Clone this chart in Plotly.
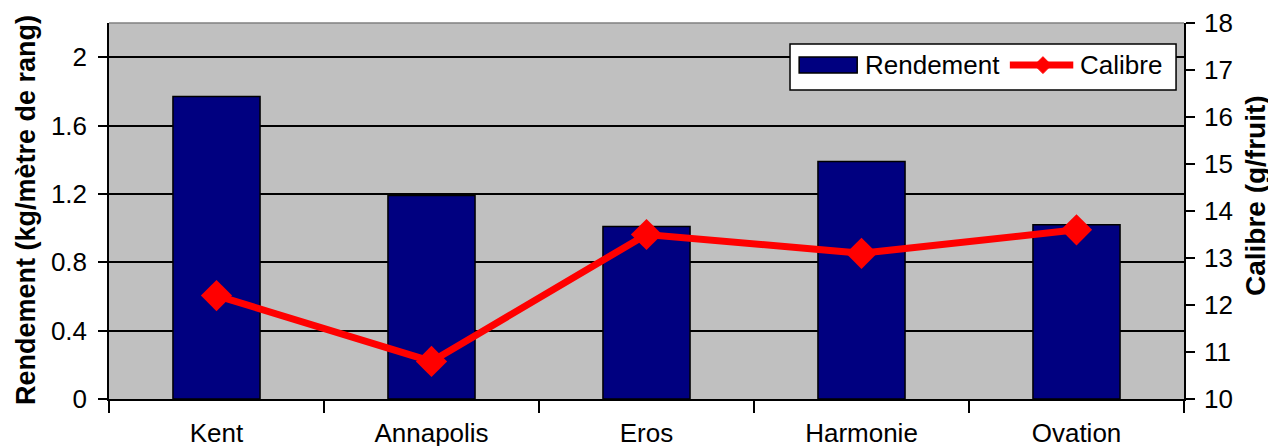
import plotly.graph_objects as go

categories = ["Kent", "Annapolis", "Eros", "Harmonie", "Ovation"]
rendement = [1.77, 1.19, 1.01, 1.39, 1.02]
calibre = [12.2, 10.8, 13.5, 13.1, 13.6]
left_ticks = [0, 0.4, 0.8, 1.2, 1.6, 2]
left_labels = ["0", "0.4", "0.8", "1.2", "1.6", "2"]
right_ticks = [10, 11, 12, 13, 14, 15, 16, 17, 18]

FONT = "Liberation Sans, Arial, sans-serif"
NAVY = "#000080"
RED = "#ff0000"

fig = go.Figure()
fig.add_trace(go.Bar(
    x=categories, y=rendement, name="Rendement", showlegend=False,
    marker=dict(color=NAVY, line=dict(color="black", width=1.5)),
))
fig.add_trace(go.Scatter(
    x=categories, y=calibre, name="Calibre", yaxis="y2", showlegend=False,
    mode="lines+markers",
    line=dict(color=RED, width=7),
    marker=dict(symbol="diamond", size=24, color=RED),
))

# page body has an 8px margin: compensate so the plot area lands at x 109..1184, y 23..399
fig.update_layout(
    width=1276, height=446,
    margin=dict(l=101, r=100, t=15, b=55),
    paper_bgcolor="white",
    plot_bgcolor="#c0c0c0",
    bargap=0.595,
    font=dict(family=FONT, size=26, color="black"),
    xaxis=dict(
        type="category", tickson="boundaries", ticks="outside", ticklen=12,
        tickcolor="black", tickwidth=1.5,
        showline=True, linecolor="black", linewidth=1.5,
        showgrid=False, ticklabelstandoff=10, automargin=False,
        range=[-0.5, 4.5],
        tickfont=dict(size=26),
    ),
    yaxis=dict(
        range=[0, 2.2], tickvals=left_ticks, ticktext=left_labels,
        ticks="outside", ticklen=9, tickcolor="black", tickwidth=1.5,
        showline=True, linecolor="black", linewidth=1.5,
        showgrid=True, gridcolor="black", gridwidth=1.5,
        zeroline=False, automargin=False, ticklabelstandoff=6,
        tickfont=dict(size=26),
    ),
    yaxis2=dict(
        range=[10, 18], tickvals=right_ticks, overlaying="y", side="right",
        ticks="outside", ticklen=9, tickcolor="black", tickwidth=1.5,
        showline=True, linecolor="black", linewidth=1.5,
        showgrid=False, zeroline=False, automargin=False, ticklabelstandoff=4,
        tickfont=dict(size=26),
    ),
)

# axis titles as rotated annotations (placed like the reference)
fig.add_annotation(xref="paper", yref="paper", x=-0.0772, y=0.5027, textangle=-90,
                   text="<b>Rendement (kg/mètre de rang)</b>", showarrow=False,
                   font=dict(size=27), xanchor="center", yanchor="middle")
fig.add_annotation(xref="paper", yref="paper", x=1.0665, y=0.541, textangle=-90,
                   text="<b>Calibre (g/fruit)</b>", showarrow=False,
                   font=dict(size=28), xanchor="center", yanchor="middle")

# top border of plot area
fig.add_shape(type="line", xref="paper", yref="paper", x0=0, x1=1, y0=1, y1=1,
              line=dict(color="#808080", width=1.5))

# custom legend (box, swatches, labels)
fig.add_shape(type="rect", xref="paper", yref="paper", x0=0.6335, x1=0.9926, y0=0.8218, y1=0.944,
              fillcolor="white", line=dict(color="black", width=1.5), layer="above")
fig.add_shape(type="rect", xref="paper", yref="paper", x0=0.642, x1=0.696, y0=0.867, y1=0.9096,
              fillcolor=NAVY, line=dict(color="black", width=1.5), layer="above")
fig.add_shape(type="line", xref="paper", yref="paper", x0=0.838, x1=0.897, y0=0.888, y1=0.888,
              line=dict(color=RED, width=7), layer="above")
cx, cy, hw, hh = 0.8688, 0.888, 0.0078, 0.0225
fig.add_shape(type="path", xref="paper", yref="paper",
              path=f"M {cx-hw} {cy} L {cx} {cy+hh} L {cx+hw} {cy} L {cx} {cy-hh} Z",
              fillcolor=RED, line=dict(color=RED, width=1), layer="above")
fig.add_annotation(xref="paper", yref="paper", x=0.7014, y=0.888, xanchor="left", yanchor="middle",
                   text="Rendement", showarrow=False, font=dict(size=26))
fig.add_annotation(xref="paper", yref="paper", x=0.9014, y=0.888, xanchor="left", yanchor="middle",
                   text="Calibre", showarrow=False, font=dict(size=26))

fig.write_html("out.html")
